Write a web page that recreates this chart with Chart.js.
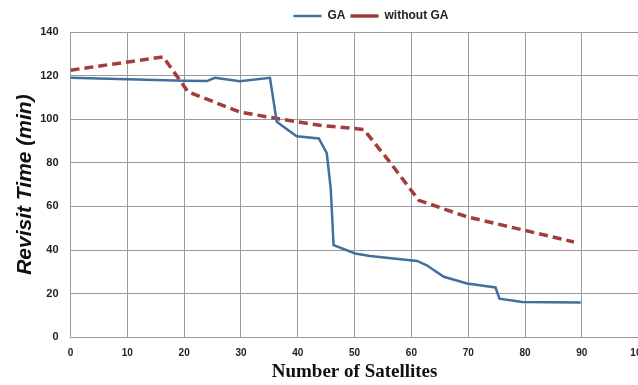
<!DOCTYPE html>
<html>
<head>
<meta charset="utf-8">
<script src="https://cdn.jsdelivr.net/npm/chart.js@4"></script>
<style>
  html, body { margin: 0; padding: 0; background: #fff; overflow: hidden; }
  #wrap { width: 638px; height: 385px; overflow: hidden; }
</style>
</head>
<body>
<div id="wrap"><canvas id="chart" width="657" height="385"></canvas></div>
<script>
// ---- data ----
const gaX = [0, 10, 20, 24, 25.4, 29.8, 35.1, 36.3, 39.8, 43.7, 45.1, 45.8, 46.3, 50.1, 52.7, 61, 62.7, 65.7, 69.8, 74.8, 75.5, 79.5, 89.8];
const gaY = [119, 118.3, 117.6, 117.5, 119, 117.4, 119, 98.8, 92.2, 91.2, 84.4, 68, 42.2, 38.4, 37.2, 35, 33, 27.7, 24.6, 22.8, 17.7, 16.2, 15.9];

const noGaX = [0, 16.3, 20.7, 29.8, 36.3, 43.9, 51.6, 56, 61.3, 69.8, 79.8, 88.6];
const noGaY = [122.5, 128.6, 112.5, 103.3, 100.3, 97.2, 95.3, 81, 62.8, 55.2, 49.1, 43.7];

const xTicks = [0, 10, 20, 30, 40, 50, 60, 70, 80, 90, 100];
const yTicks = [0, 20, 40, 60, 80, 100, 120, 140];

function toPoints(xs, ys) {
    return xs.map((x, i) => ({ x: x, y: ys[i] }));
}

// move the legend a bit right, like in the original figure
const legendShift = {
    id: 'legendShift',
    afterLayout(chart) {
        chart.legend.left += 36;
        chart.legend.right += 36;
    }
};

const ctx = document.getElementById('chart');
new Chart(ctx, {
    type: 'scatter',
    data: {
        datasets: [{
            label: 'GA',
            data: toPoints(gaX, gaY),
            showLine: true,
            borderColor: '#41709e',
            backgroundColor: '#41709e',
            borderWidth: 2.5,
            pointRadius: 0,
            tension: 0
        }, {
            label: 'without GA',
            data: toPoints(noGaX, noGaY),
            showLine: true,
            borderColor: '#a23d3b',
            backgroundColor: '#a23d3b',
            borderWidth: 3.5,
            borderDash: [9, 5],
            pointRadius: 0,
            tension: 0
        }]
    },
    options: {
        responsive: false,
        animation: false,
        layout: { padding: { top: 5, left: 13, right: 0, bottom: 2 } },
        plugins: {
            legend: {
                position: 'top',
                labels: {
                    usePointStyle: true,
                    pointStyle: 'line',
                    pointStyleWidth: 28,
                    boxHeight: 8,
                    padding: 5,
                    color: '#222',
                    font: { family: 'Liberation Sans', size: 12, weight: 'bold' }
                }
            },
            tooltip: { enabled: false }
        },
        scales: {
            x: {
                type: 'linear',
                min: 0,
                max: 100,
                afterBuildTicks: axis => { axis.ticks = xTicks.map(v => ({ value: v })); },
                grid: { color: '#9a9a9a', lineWidth: 1, drawTicks: false },
                border: { color: '#9a9a9a' },
                ticks: {
                    padding: 10,
                    color: '#222',
                    font: { family: 'Liberation Sans', size: 10, weight: 'bold' }
                },
                title: {
                    display: true,
                    text: 'Number of Satellites',
                    color: '#111',
                    padding: { top: -9, bottom: 0 },
                    font: { family: 'Liberation Serif', size: 19, weight: 'bold' }
                }
            },
            y: {
                type: 'linear',
                min: 0,
                max: 140,
                afterBuildTicks: axis => { axis.ticks = yTicks.map(v => ({ value: v })); },
                grid: { color: '#9a9a9a', lineWidth: 1, drawTicks: false },
                border: { color: '#9a9a9a' },
                ticks: {
                    padding: 12,
                    color: '#222',
                    font: { family: 'Liberation Sans', size: 11, weight: 'bold' }
                },
                title: {
                    display: true,
                    text: 'Revisit Time (min)',
                    color: '#111',
                    padding: { top: 0, bottom: -10 },
                    font: { family: 'Liberation Sans', size: 21, weight: 'bold', style: 'italic' }
                }
            }
        }
    },
    plugins: [legendShift]
});
</script>
</body>
</html>
